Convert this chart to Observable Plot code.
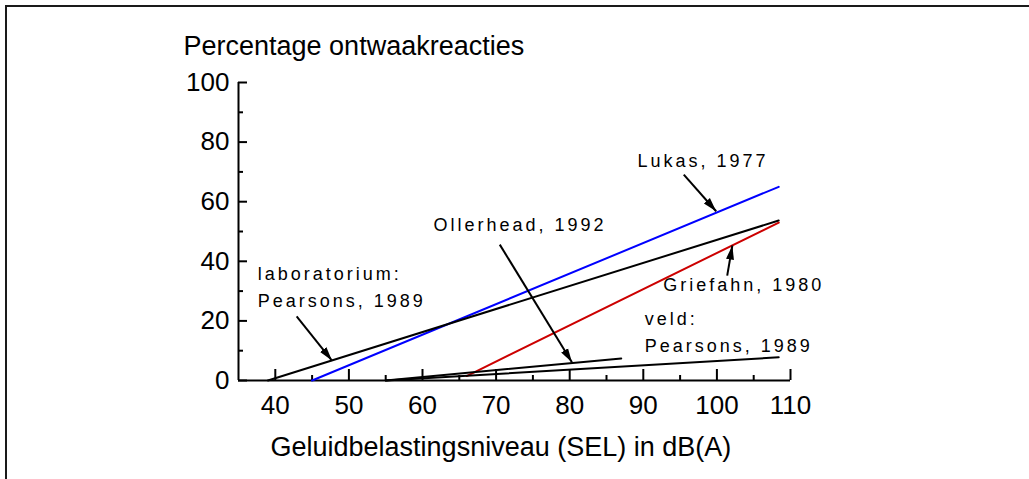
<!DOCTYPE html>
<html>
<head>
<meta charset="utf-8">
<script src="https://cdn.jsdelivr.net/npm/d3@7"></script>
<script src="https://cdn.jsdelivr.net/npm/@observablehq/plot@0.6"></script>
<style>
  html, body { margin: 0; padding: 0; background: #fff; }
  #wrap { position: relative; width: 1029px; height: 479px; overflow: hidden; }
  #frame { position: absolute; left: 5px; top: 5px; width: 1040px; height: 490px;
           border-top: 2.5px solid #1a1a1a; border-left: 2px solid #1a1a1a; pointer-events: none; }
</style>
</head>
<body>
<div id="wrap"><div id="frame"></div></div>
<script>
// ---- Data ----
const yTitle = "Percentage ontwaakreacties";
const xTitle = "Geluidbelastingsniveau (SEL) in dB(A)";
const xMajor = [40, 50, 60, 70, 80, 90, 100, 110];
const xMinor = [45, 55, 65, 75, 85, 95, 105];
const yMajor = [0, 20, 40, 60, 80, 100];
const yMinor = [10, 30, 50, 70, 90];

const seriesNames = ["Lukas, 1977", "laboratorium: Pearsons, 1989", "Griefahn, 1980", "Ollerhead, 1992", "veld: Pearsons, 1989"];
const seriesX = [[45, 108.4], [39, 108.4], [66, 108.4], [55, 87], [55, 108.4]];
const seriesY = [[0, 65], [0, 53.7], [1.5, 53], [0, 7.4], [0, 7.8]];

const annoText = ["laboratorium:", "Pearsons, 1989", "Lukas, 1977", "Griefahn, 1980", "veld:", "Pearsons, 1989", "Ollerhead, 1992"];
const annoX = [37.6, 37.6, 89.2, 92.7, 90.2, 90.2, 61.5];
const annoY = [33.6, 24.5, 71.8, 30.0, 18.7, 9.5, 50.3];

const arrowX1 = [42.9, 95.5, 101.4, 70.5];
const arrowY1 = [21.5, 69.1, 35.2, 45.6];
const arrowX2 = [47.7, 99.9, 102.1, 80.3];
const arrowY2 = [6.7, 56.8, 45.3, 6.1];

// ---- Styles ----
const colors = {"Lukas, 1977": "#0000ff", "Griefahn, 1980": "#cc0000"};

// ---- Build tables ----
const lineRows = seriesNames.flatMap((name, i) =>
  seriesX[i].map((x, j) => ({name, x, y: seriesY[i][j]})));
const annos = annoText.map((t, i) => ({t, x: annoX[i], y: annoY[i]}));
const arrows = arrowX1.map((x1, i) => ({x1, y1: arrowY1[i], x2: arrowX2[i], y2: arrowY2[i]}));

const W = 1029, H = 479;
const mL = 238, mR = 239, mT = 82, mB = 99;
const innerW = W - mL - mR, innerH = H - mT - mB;

const chart = Plot.plot({
  width: W, height: H,
  marginLeft: mL, marginRight: mR, marginTop: mT, marginBottom: mB,
  style: {fontFamily: "'Liberation Sans', Arial, sans-serif", background: "transparent", overflow: "visible"},
  x: {domain: [35, 110]},
  y: {domain: [0, 100]},
  marks: [
    // axis labels
    Plot.axisX(xMajor, {tickSize: 0, tickPadding: 15, fontSize: 26, label: null}),
    Plot.axisY(yMajor, {tickSize: 0, tickPadding: 9, fontSize: 26, label: null}),
    // inward ticks
    Plot.tickX(xMajor, {x: d => d, insetTop: innerH - 11, strokeWidth: 2, stroke: "#000"}),
    Plot.tickX(xMinor, {x: d => d, insetTop: innerH - 5, strokeWidth: 2, stroke: "#000"}),
    Plot.tickY(yMajor, {y: d => d, insetRight: innerW - 9, strokeWidth: 2, stroke: "#000"}),
    Plot.tickY(yMinor, {y: d => d, insetRight: innerW - 5, strokeWidth: 2, stroke: "#000"}),
    // axis lines
    Plot.ruleY([0], {strokeWidth: 2, stroke: "#000"}),
    Plot.ruleX([35], {strokeWidth: 2, stroke: "#000"}),
    // series
    Plot.line(lineRows, {x: "x", y: "y", z: "name", stroke: d => colors[d.name] || "#000", strokeWidth: 2}),
    // arrows (shaft; filled head added as marker below)
    Plot.link(arrows, {x1: "x1", y1: "y1", x2: "x2", y2: "y2", stroke: "#000", strokeWidth: 2}),
    // annotations
    Plot.text(annos, {x: "x", y: "y", text: "t", textAnchor: "start", lineAnchor: "bottom", fontSize: 18, fill: "#000"}),
    // titles
    Plot.text([yTitle], {frameAnchor: "top-left", text: d => d, textAnchor: "start", lineAnchor: "bottom", dx: 183 - mL, dy: 54 - mT, fontSize: 27, fill: "#000"}),
    Plot.text([xTitle], {frameAnchor: "bottom-left", text: d => d, textAnchor: "start", lineAnchor: "bottom", dx: 270 - mL, dy: 455 - (H - mB), fontSize: 27, fill: "#000"})
  ]
});

// letter-spaced annotation labels
chart.querySelectorAll('g[aria-label="text"]').forEach(g => {
  if (g.getAttribute("font-size") === "18") g.setAttribute("letter-spacing", "3");
});

// filled arrow heads
const ns = "http://www.w3.org/2000/svg";
const defs = document.createElementNS(ns, "defs");
const marker = document.createElementNS(ns, "marker");
marker.setAttribute("id", "arrowhead");
marker.setAttribute("markerUnits", "userSpaceOnUse");
marker.setAttribute("markerWidth", "16");
marker.setAttribute("markerHeight", "12");
marker.setAttribute("viewBox", "0 -6 16 12");
marker.setAttribute("refX", "14");
marker.setAttribute("refY", "0");
marker.setAttribute("orient", "auto");
const tri = document.createElementNS(ns, "path");
tri.setAttribute("d", "M0,-4L14,0L0,4Z");
tri.setAttribute("fill", "#000");
marker.appendChild(tri);
defs.appendChild(marker);
chart.insertBefore(defs, chart.firstChild);
chart.querySelectorAll('g[aria-label="link"] path').forEach(p => p.setAttribute("marker-end", "url(#arrowhead)"));

document.getElementById("wrap").prepend(chart);
</script>
</body>
</html>
